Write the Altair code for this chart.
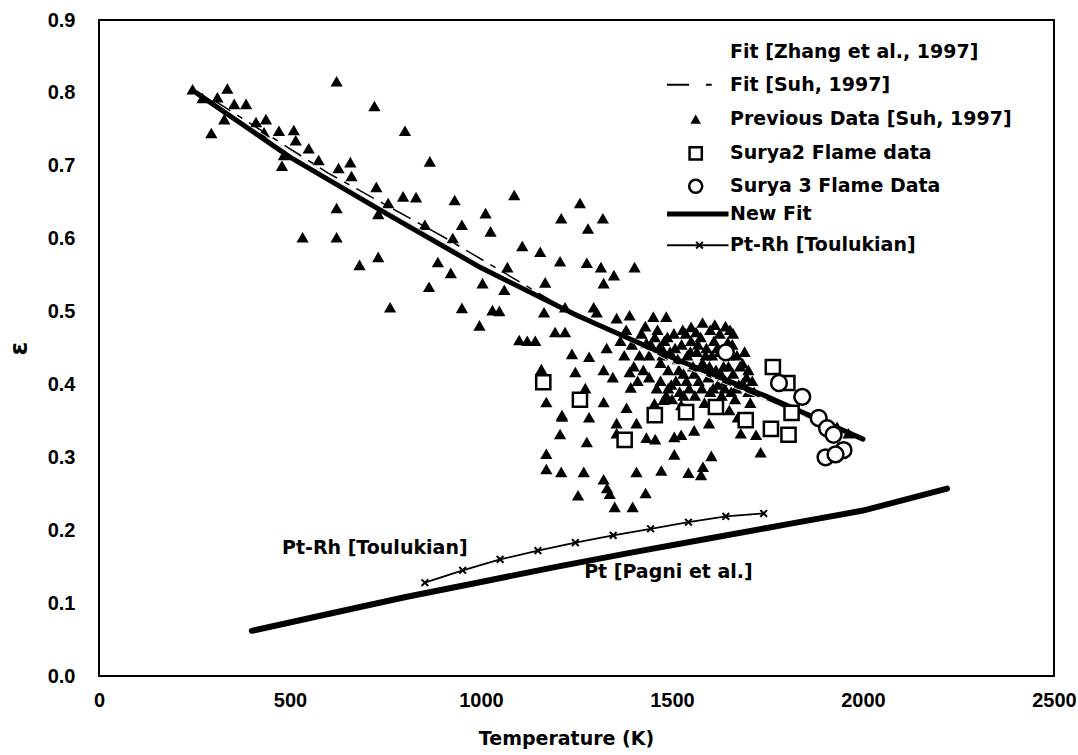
import altair as alt
import pandas as pd

# ---------------- data (Temperature K, emissivity) ----------------
prev_T = [245, 336, 271, 310, 354, 385, 328, 294, 411, 437, 432, 471, 510, 515, 484, 479, 549, 575, 627, 658,
          661, 622, 721, 801, 866, 726, 796, 830, 757, 731, 622, 533, 622, 682, 731, 853, 887, 864, 762, 921,
          931, 1087, 1012, 950, 1025, 926, 1259, 1210, 1319, 1280, 1108, 1155, 1207, 1277, 1314, 1348, 1321, 1069, 1168, 1004,
          1061, 950, 1030, 1048, 996, 1165, 1220, 1194, 1220, 1100, 1121, 1142, 1295, 1355, 1389, 1402,
          1158, 1171, 1212, 1238, 1247, 1283, 1303, 1451, 1485, 1329, 1321, 1345, 1389, 1392, 1273, 1477, 1212, 1283, 1321, 1381,
          1355, 1407, 1207, 1277, 1433, 1456, 1506, 1524, 1558, 1597, 1355, 1506, 1603, 1581, 1171, 1171, 1210, 1269, 1321, 1330,
          1337, 1407, 1472, 1543, 1576, 1254, 1431, 1350, 1397,
          1550, 1563, 1646, 1685, 1693, 1680, 1478, 1433, 1467, 1536, 1700, 1695, 1685, 1454, 1524, 1672, 1720, 1732, 1962, 1932,
          1420, 1440, 1455, 1470, 1480, 1490, 1495, 1505, 1510, 1515, 1525, 1530, 1540, 1545, 1550, 1555, 1565, 1570, 1575, 1580,
          1590, 1595, 1600, 1605, 1610, 1615, 1620, 1625, 1630, 1635, 1640, 1650, 1655, 1660, 1665, 1670, 1675, 1440, 1460, 1485,
          1500, 1520, 1560, 1585, 1620, 1650, 1700, 1710, 1425, 1415, 1660, 1600, 1640, 1580, 1365, 1375, 1395, 1400, 1410, 1380,
          1430, 1445, 1462, 1475, 1488, 1498, 1508, 1518, 1528, 1538, 1548, 1558, 1568, 1578, 1588, 1598, 1608, 1618, 1628, 1638,
          1648, 1658, 1668, 1678, 1690, 1705, 1715, 1470, 1490, 1530, 1612, 1625, 1652]
prev_eps = [0.805, 0.806, 0.793, 0.794, 0.785, 0.785, 0.764, 0.745, 0.760, 0.764, 0.746, 0.748, 0.749, 0.735, 0.715, 0.700, 0.724, 0.708, 0.697, 0.705,
            0.686, 0.816, 0.782, 0.748, 0.706, 0.671, 0.658, 0.657, 0.649, 0.634, 0.642, 0.602, 0.602, 0.564, 0.575, 0.619, 0.568, 0.534, 0.506, 0.553,
            0.653, 0.660, 0.635, 0.619, 0.610, 0.601, 0.649, 0.628, 0.628, 0.614, 0.590, 0.582, 0.569, 0.567, 0.561, 0.550, 0.539, 0.561, 0.540, 0.539,
            0.530, 0.505, 0.502, 0.501, 0.481, 0.499, 0.506, 0.472, 0.472, 0.461, 0.460, 0.460, 0.506, 0.491, 0.495, 0.561,
            0.421, 0.376, 0.358, 0.442, 0.417, 0.438, 0.499, 0.493, 0.493, 0.450, 0.420, 0.410, 0.417, 0.396, 0.395, 0.447, 0.356, 0.355, 0.376, 0.368,
            0.347, 0.347, 0.332, 0.321, 0.327, 0.325, 0.328, 0.331, 0.337, 0.347, 0.333, 0.304, 0.302, 0.287, 0.305, 0.284, 0.280, 0.280, 0.270, 0.258,
            0.250, 0.280, 0.282, 0.279, 0.276, 0.248, 0.251, 0.232, 0.232,
            0.479, 0.472, 0.458, 0.429, 0.348, 0.333, 0.379, 0.457, 0.451, 0.470, 0.420, 0.410, 0.402, 0.374, 0.372, 0.355, 0.331, 0.307, 0.333, 0.342,
            0.470, 0.440, 0.465, 0.430, 0.460, 0.420, 0.445, 0.470, 0.405, 0.435, 0.455, 0.415, 0.440, 0.395, 0.460, 0.425, 0.445, 0.405, 0.465, 0.430,
            0.450, 0.410, 0.390, 0.440, 0.460, 0.420, 0.400, 0.445, 0.385, 0.425, 0.405, 0.440, 0.390, 0.415, 0.380, 0.440, 0.400, 0.410, 0.395, 0.385,
            0.380, 0.390, 0.385, 0.375, 0.370, 0.365, 0.390, 0.405, 0.420, 0.440, 0.470, 0.475, 0.480, 0.485, 0.460, 0.440, 0.455, 0.425, 0.405, 0.475,
            0.480, 0.455, 0.475, 0.440, 0.465, 0.400, 0.450, 0.420, 0.475, 0.405, 0.445, 0.415, 0.455, 0.395, 0.440, 0.425, 0.395, 0.450, 0.415, 0.395,
            0.425, 0.455, 0.395, 0.425, 0.445, 0.375, 0.390, 0.405, 0.395, 0.385, 0.482, 0.470, 0.475]

surya2_T = [1163, 1259, 1376, 1455, 1537, 1615, 1693, 1764, 1802, 1813, 1759, 1805]
surya2_eps = [0.403, 0.379, 0.324, 0.358, 0.362, 0.369, 0.351, 0.424, 0.402, 0.361, 0.339, 0.331]

surya3_T = [1641, 1780, 1841, 1884, 1906, 1923, 1949, 1902, 1928]
surya3_eps = [0.444, 0.402, 0.383, 0.354, 0.340, 0.331, 0.310, 0.300, 0.304]

newfit_T = [255, 500, 750, 1000, 1250, 1500, 1750, 2000]
newfit_eps = [0.800, 0.712, 0.635, 0.560, 0.495, 0.437, 0.383, 0.325]

suh_T = [300, 600, 900, 1200, 1500, 1800, 1950]
suh_eps = [0.790, 0.690, 0.603, 0.510, 0.435, 0.368, 0.335]

zhang_T = [300, 700, 1100, 1500, 1900]
zhang_eps = [0.785, 0.655, 0.535, 0.430, 0.345]

pt_T = [400, 600, 800, 1000, 1200, 1400, 1600, 1800, 2000, 2220]
pt_eps = [0.062, 0.085, 0.108, 0.129, 0.150, 0.170, 0.189, 0.208, 0.227, 0.257]

ptrh_T = [853, 952, 1050, 1149, 1247, 1346, 1444, 1543, 1641, 1740]
ptrh_eps = [0.128, 0.145, 0.160, 0.172, 0.183, 0.193, 0.202, 0.211, 0.219, 0.223]

legend_labels = ["Fit [Zhang et al., 1997]", "Fit [Suh, 1997]", "Previous Data [Suh, 1997]",
                 "Surya2 Flame data", "Surya 3 Flame Data", "New Fit", "Pt-Rh [Toulukian]"]
legend_rows = [0.856, 0.811, 0.764, 0.717, 0.672, 0.634, 0.591]
legend_text_T = 1652
legend_sym_T = 1562
legend_line_T = [1487, 1648]
legend_dash_T = [1487, 1604]

annot_labels = ["Pt-Rh [Toulukian]", "Pt [Pagni et al.]"]
annot_T = [722, 1270]
annot_eps = [0.176, 0.143]

# ---------------- encodings ----------------
xscale = alt.Scale(domain=[0, 2500], nice=False, zero=False)
yscale = alt.Scale(domain=[0, 0.9], nice=False, zero=False)


def X():
    return alt.X("T:Q", scale=xscale, title="Temperature (K)",
                 axis=alt.Axis(values=[0, 500, 1000, 1500, 2000, 2500], format="d", labelFlush=False,
                               labelPadding=14, titleX=467, titleY=62, titleBaseline="middle"))


def Y():
    return alt.Y("eps:Q", scale=yscale, title="ε",
                 axis=alt.Axis(values=[0, 0.1, 0.2, 0.3, 0.4, 0.5, 0.6, 0.7, 0.8, 0.9], format=".1f",
                               labelFlush=False, labelPadding=24, titleX=-81, titleY=328, titleAngle=270,
                               titleAlign="center", titleBaseline="middle", titleFontSize=25))


def df(t, e):
    return pd.DataFrame({"T": t, "eps": e})


prev = alt.Chart(df(prev_T, prev_eps)).mark_point(
    shape="triangle-up", filled=True, color="black", size=150, opacity=1
).encode(x=X(), y=Y())

zhang = alt.Chart(df(zhang_T, zhang_eps)).mark_line(color="#e2e2e2", strokeWidth=1).encode(x=X(), y=Y())
suh = alt.Chart(df(suh_T, suh_eps)).mark_line(color="black", strokeWidth=1.5, strokeDash=[20, 8, 6, 8]).encode(x=X(), y=Y())
newfit = alt.Chart(df(newfit_T, newfit_eps)).mark_line(color="black", strokeWidth=5, strokeCap="round").encode(x=X(), y=Y())

s2 = alt.Chart(df(surya2_T, surya2_eps)).mark_point(
    shape="square", filled=False, fill="white", fillOpacity=1, color="black", strokeWidth=2.5, size=200, opacity=1
).encode(x=X(), y=Y())
s3 = alt.Chart(df(surya3_T, surya3_eps)).mark_point(
    shape="circle", filled=False, fill="white", fillOpacity=1, color="black", strokeWidth=2.5, size=250, opacity=1
).encode(x=X(), y=Y())

pt = alt.Chart(df(pt_T, pt_eps)).mark_line(color="black", strokeWidth=6, strokeCap="round").encode(x=X(), y=Y())
ptrh_line = alt.Chart(df(ptrh_T, ptrh_eps)).mark_line(color="black", strokeWidth=1.8).encode(x=X(), y=Y())
ptrh_pts = alt.Chart(df(ptrh_T, ptrh_eps)).mark_point(
    shape="M-1,-1L1,1M-1,1L1,-1", color="black", strokeWidth=2, size=45, opacity=1
).encode(x=X(), y=Y())

# ---------------- legend (drawn inside the plot) ----------------
leg_text = alt.Chart(pd.DataFrame({"T": [legend_text_T] * 7, "eps": legend_rows, "label": legend_labels})).mark_text(
    align="left", baseline="middle", font="DejaVu Sans", fontWeight="bold", fontSize=19, color="black"
).encode(x=X(), y=Y(), text="label:N")

leg_suh = alt.Chart(df(legend_dash_T, [legend_rows[1]] * 2)).mark_line(
    color="black", strokeWidth=2, strokeDash=[22, 17, 6, 50]).encode(x=X(), y=Y())
leg_tri = alt.Chart(df([legend_sym_T], [legend_rows[2]])).mark_point(
    shape="triangle-up", filled=True, color="black", size=110, opacity=1).encode(x=X(), y=Y())
leg_sq = alt.Chart(df([legend_sym_T], [legend_rows[3]])).mark_point(
    shape="square", filled=False, color="black", strokeWidth=2.5, size=150, opacity=1).encode(x=X(), y=Y())
leg_ci = alt.Chart(df([legend_sym_T], [legend_rows[4]])).mark_point(
    shape="circle", filled=False, color="black", strokeWidth=2.5, size=170, opacity=1).encode(x=X(), y=Y())
leg_new = alt.Chart(df(legend_line_T, [legend_rows[5]] * 2)).mark_line(color="black", strokeWidth=5).encode(x=X(), y=Y())
leg_ptrh = alt.Chart(df(legend_line_T, [legend_rows[6]] * 2)).mark_line(color="black", strokeWidth=1.8).encode(x=X(), y=Y())
leg_ptrh_pt = alt.Chart(df([legend_sym_T + 10], [legend_rows[6]])).mark_point(
    shape="M-1,-1L1,1M-1,1L1,-1", color="black", strokeWidth=2, size=45, opacity=1).encode(x=X(), y=Y())

# ---------------- annotations ----------------
ann_df = pd.DataFrame({"T": annot_T, "eps": annot_eps, "label": annot_labels})
ann_c = alt.Chart(ann_df.iloc[[0]]).mark_text(
    align="center", baseline="middle", font="DejaVu Sans", fontWeight="bold", fontSize=19, color="black"
).encode(x=X(), y=Y(), text="label:N")
ann_l = alt.Chart(ann_df.iloc[[1]]).mark_text(
    align="left", baseline="middle", font="DejaVu Sans", fontWeight="bold", fontSize=19, color="black"
).encode(x=X(), y=Y(), text="label:N")

chart = alt.layer(
    prev, zhang, suh, newfit, s2, s3, pt, ptrh_line, ptrh_pts,
    leg_text, leg_suh, leg_tri, leg_sq, leg_ci, leg_new, leg_ptrh, leg_ptrh_pt,
    ann_c, ann_l
).properties(
    width=955, height=656,
    padding={"left": 99, "top": 20, "right": 24, "bottom": 79},
    autosize=alt.AutoSizeParams(type="none"),
    background="white"
).configure_view(
    stroke="black", strokeWidth=2
).configure_axis(
    grid=False, domain=False, ticks=False,
    labelFont="Liberation Sans", labelFontWeight="bold", labelFontSize=20, labelColor="black",
    titleFont="DejaVu Sans", titleFontWeight="bold", titleFontSize=19, titleColor="black"
)

chart.save("out.html", embed_options={"renderer": "svg", "actions": False})
